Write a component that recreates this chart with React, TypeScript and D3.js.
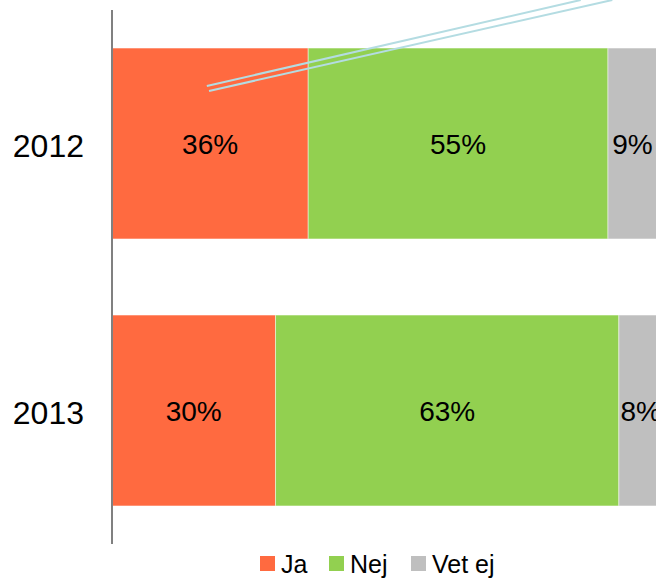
import React from "react";
import * as d3 from "d3";

const years = ["2012", "2013"];
const seriesNames = ["Ja", "Nej", "Vet ej"];
const ja = [36, 30];
const nej = [55, 63];
const vetEj = [9, 8];
const colors = ["#FF6A40", "#92D050", "#BFBFBF"];

const W = 656;
const H = 579;

export default function App() {
  const x = d3.scaleLinear().domain([0, 100]).range([112, 657]);
  const y = d3
    .scaleBand<string>()
    .domain(years)
    .range([10, 544])
    .paddingInner(0.285)
    .paddingOuter(0.1425);

  const rows = years.map((yr, i) => ({ year: yr, Ja: ja[i], Nej: nej[i], "Vet ej": vetEj[i] }));
  const stack = d3.stack<any>().keys(seriesNames)(rows);

  const font = "'Liberation Sans', Arial, sans-serif";

  // decorative double line (annotation)
  const lineA = d3.line()([
    [x(17.4), 86],
    [x(86.0), 0],
  ]);
  const lineB = d3.line()([
    [x(17.8), 91],
    [x(91.8), 0],
  ]);

  const legendX = [260, 329, 411];

  return (
    <svg
      width={W}
      height={H}
      style={{ position: "absolute", left: 0, top: 0, background: "#fff" }}
      fontFamily={font}
    >
      <rect x={0} y={0} width={W} height={H} fill="#fff" />
      {stack.map((s, si) => (
        <g key={s.key}>
          {s.map((d, i) => (
            <rect
              key={i}
              x={x(d[0])}
              y={y(years[i])!}
              width={x(d[1]) - x(d[0])}
              height={y.bandwidth()}
              fill={colors[si]}
              stroke="rgba(255,255,255,0.45)"
              strokeWidth={1}
            />
          ))}
          {s.map((d, i) => (
            <text
              key={"t" + i}
              x={(x(d[0]) + x(d[1])) / 2}
              y={y(years[i])! + y.bandwidth() / 2 + 10}
              textAnchor="middle"
              fontSize={28}
              fill="#000"
            >
              {`${d[1] - d[0]}%`}
            </text>
          ))}
        </g>
      ))}
      <line x1={112} x2={112} y1={y.range()[0]} y2={y.range()[1]} stroke="#808080" strokeWidth={2} />
      {years.map((yr) => (
        <text
          key={yr}
          x={84}
          y={y(yr)! + y.bandwidth() / 2 + 13}
          textAnchor="end"
          fontSize={32}
          fill="#000"
        >
          {yr}
        </text>
      ))}
      <path d={lineA!} stroke="#B4DCE2" strokeWidth={2} fill="none" />
      <path d={lineB!} stroke="#B4DCE2" strokeWidth={2} fill="none" />
      {seriesNames.map((n, i) => (
        <g key={n}>
          <rect x={legendX[i]} y={556} width={15} height={15} fill={colors[i]} />
          <text x={legendX[i] + 21} y={573} fontSize={25} fill="#000">
            {n}
          </text>
        </g>
      ))}
    </svg>
  );
}
